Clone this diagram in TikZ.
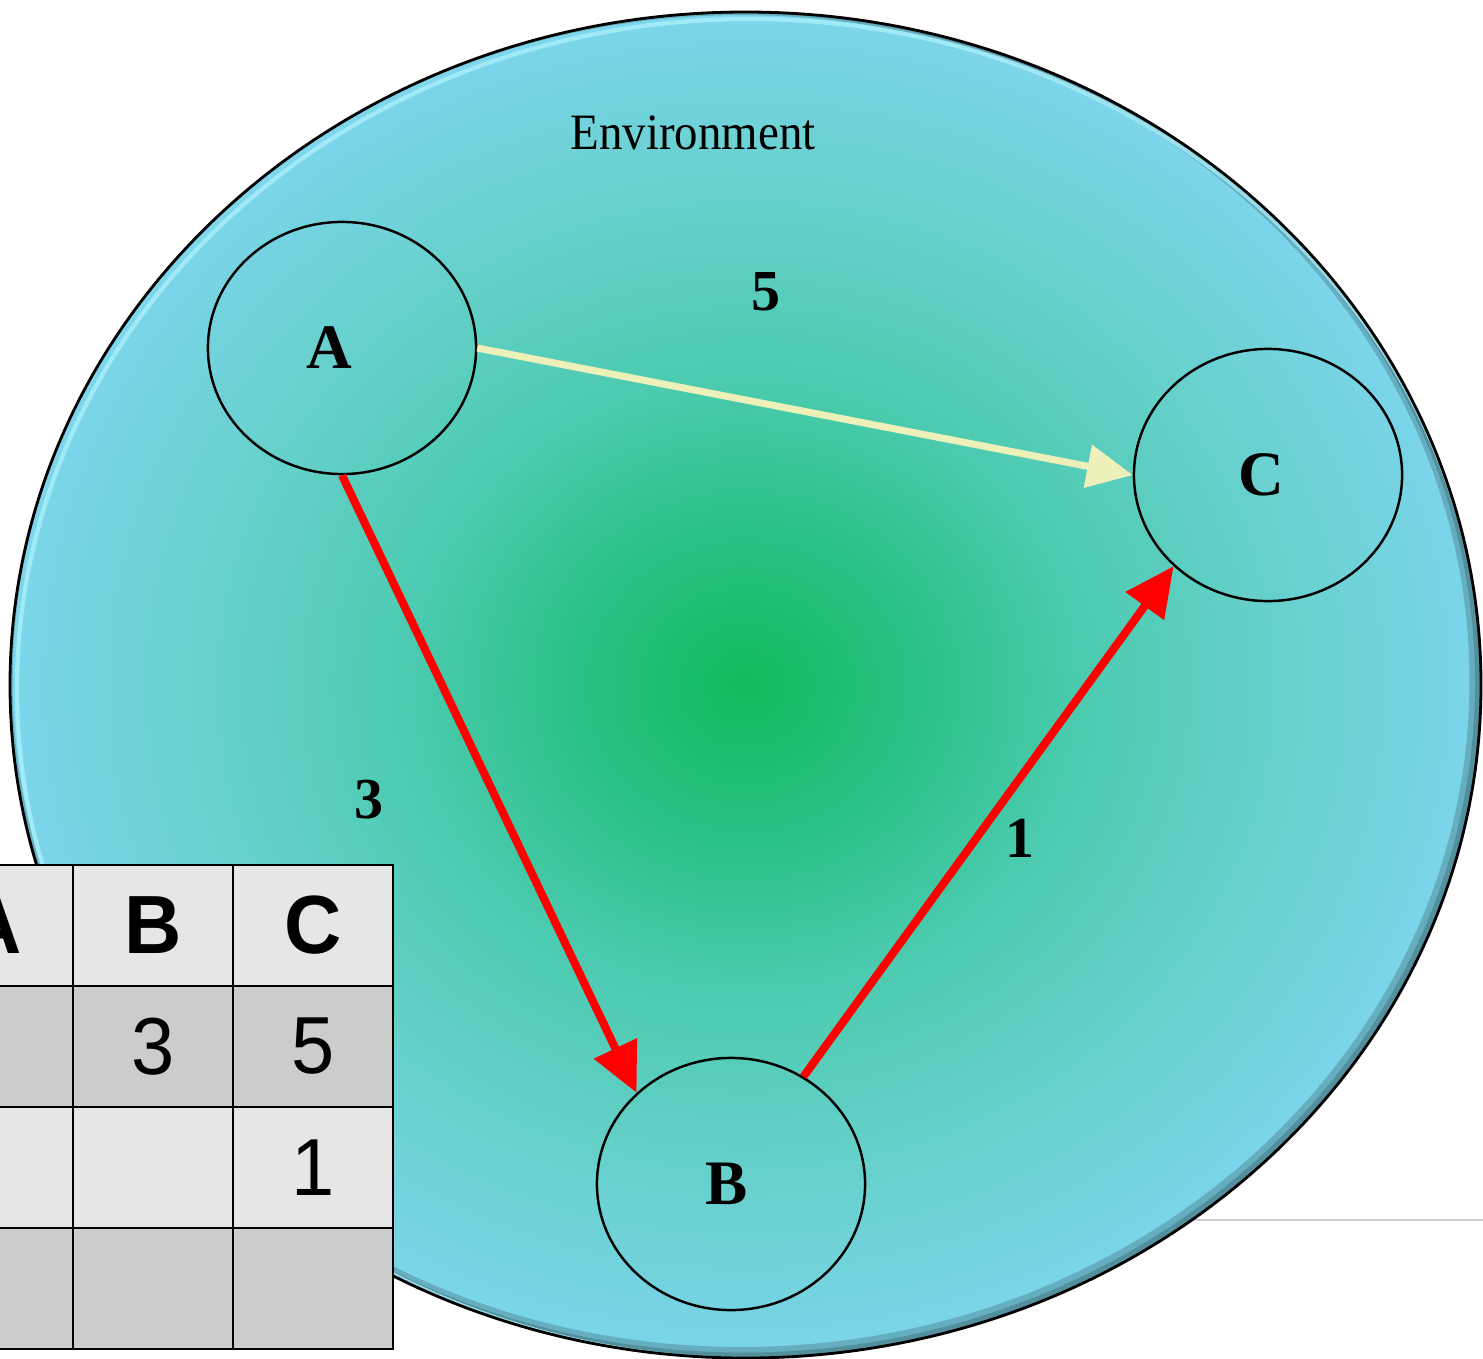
\documentclass[tikz,border=0pt]{standalone}
\usepackage{fontspec}
\usepackage{graphicx}
\setmainfont{Liberation Serif}
\newfontfamily\arialf{Liberation Sans}
\usetikzlibrary{shapes.geometric,arrows.meta}
\definecolor{envcA}{RGB}{18,187,92}
\definecolor{envcB}{RGB}{42,193,135}
\definecolor{envcC}{RGB}{76,203,176}
\definecolor{envcD}{RGB}{102,208,202}
\definecolor{envcE}{RGB}{120,212,230}
\definecolor{envcF}{RGB}{126,214,236}
\definecolor{arrred}{RGB}{255,0,0}
\definecolor{arryel}{RGB}{238,240,186}
\definecolor{celllight}{RGB}{230,230,230}
\definecolor{celldark}{RGB}{204,204,204}
\definecolor{lineGray}{RGB}{210,210,210}
\definecolor{rimlight}{RGB}{170,240,250}
\pgfdeclareradialshading{envshade}{\pgfpoint{0bp}{0bp}}{color(0bp)=(envcA); color(6bp)=(envcB); color(11.5bp)=(envcC); color(18bp)=(envcD); color(24bp)=(envcE); color(25bp)=(envcF); color(50bp)=(envcF)}
\newcommand\sqz[2][0.92]{\scalebox{#1}[1]{#2}}
\tikzset{
  statenode/.style={ellipse, draw=black, line width=0.7pt, minimum width=2.68cm, minimum height=2.52cm, inner sep=0pt, font=\fontsize{18}{20}\selectfont\bfseries},
  redarrow/.style={draw=arrred, line width=2.3pt, -{Triangle[length=14pt,width=13pt]}},
  yelarrow/.style={draw=arryel, line width=2pt, -{Triangle[length=13pt,width=12pt]}},
  weightlabel/.style={font=\fontsize{16.5}{18}\selectfont\bfseries, inner sep=0pt},
  cellbox/.style={draw=black, line width=0.7pt, minimum width=1.6cm, minimum height=1.21cm, inner sep=0pt, anchor=center, font=\arialf\fontsize{23}{25}\selectfont},
  hcell/.style={cellbox, fill=celllight, font=\arialf\fontsize{23.5}{25}\selectfont\bfseries},
  lcell/.style={cellbox, fill=celllight},
  dcell/.style={cellbox, fill=celldark},
}
\begin{document}
\begin{tikzpicture}[x=0.01cm,y=-0.01cm]
\clip (0,0) rectangle (1483,1358);
\fill[white] (0,0) rectangle (1483,1358);
% gray rule behind
\coordinate (g1) at (1100,1220);
\coordinate (g2) at (1483,1220);
\draw[lineGray, line width=0.6pt] (g1) -- (g2);
% environment
\node[ellipse, minimum width=14.71cm, minimum height=13.46cm, inner sep=0pt, shading=envshade] (env) at (745.5,685) {};
\begin{scope}
  \clip (745.5,685) ellipse [x radius=735.5, y radius=673];
  \draw[black, opacity=0.18, line width=4pt] (741,681) ellipse [x radius=735.5, y radius=673];
  \draw[black, opacity=0.18, line width=2pt] (743,683) ellipse [x radius=735.5, y radius=673];
  \draw[rimlight, opacity=0.8, line width=1.2pt] (750,689) ellipse [x radius=733, y radius=670];
\end{scope}
\draw[black, line width=0.8pt] (745.5,685) ellipse [x radius=735.5, y radius=673];
\node[font=\fontsize{14.5}{16}\selectfont, inner sep=0pt] (envlabel) at (693,133) {\sqz{Environment}};
% states
\node[statenode] (A) at (342,348) {A\kern7.4pt};
\node[statenode] (C) at (1268,475) {C\kern4pt};
\node[statenode] (B) at (731,1184) {B\kern2.3pt};
% connectors
\draw[yelarrow] (A.east) -- (C.west);
\draw[redarrow] (A.south) -- (B.136);
\draw[redarrow] (B.56) -- (C.224);
% weights
\node[weightlabel] (w5) at (766,292) {5};
\node[weightlabel] (w3) at (369,800) {3};
\node[weightlabel] (w1) at (1020,838) {1};
% table
\node[hcell] (h0) at (-7,925.5) {\sqz[0.96]{A}};
\node[hcell] (h1) at (153,925.5) {\sqz[0.96]{B}};
\node[hcell] (h2) at (313,925.5) {\sqz[0.96]{C}};
\node[dcell] (r10) at (-7,1046.5) {};
\node[dcell] (r11) at (153,1046.5) {\sqz[0.96]{3}};
\node[dcell] (r12) at (313,1046.5) {\sqz[0.96]{5}};
\node[lcell] (r20) at (-7,1167.5) {};
\node[lcell] (r21) at (153,1167.5) {};
\node[lcell] (r22) at (313,1167.5) {\sqz[0.96]{1}};
\node[dcell] (r30) at (-7,1288.5) {};
\node[dcell] (r31) at (153,1288.5) {};
\node[dcell] (r32) at (313,1288.5) {};
\end{tikzpicture}
\end{document}
